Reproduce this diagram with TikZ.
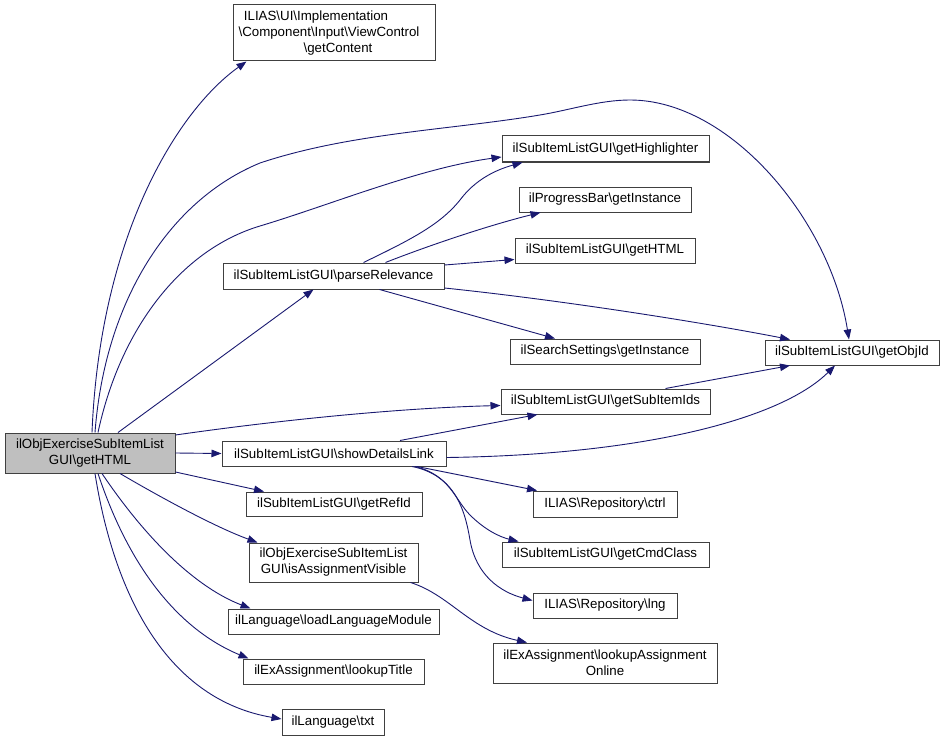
\documentclass[tikz,border=0pt]{standalone}
\usepackage{fontspec}
\setmainfont{Liberation Sans}
\usetikzlibrary{arrows.meta}
\definecolor{edgec}{HTML}{191970}
\definecolor{boxc}{HTML}{404040}
\definecolor{mainfill}{HTML}{BFBFBF}
\tikzset{
  box/.style={draw=boxc, line width=1pt, fill=white, inner sep=0pt, align=center,
    font=\fontsize{13.3}{16}\selectfont},
  mainbox/.style={box, fill=mainfill},
  edge/.style={draw=edgec, line width=0.9pt, -{Triangle[length=10pt,width=7.5pt]}, edgec},
}
\begin{document}
\begin{tikzpicture}[x=1pt,y=-1pt]
\useasboundingbox[fill=white] (0,0) rectangle (945,741);
% nodes
\node[mainbox, minimum width=170pt, minimum height=40pt] (M) at (90,453) {ilObjExerciseSubItemList\\GUI\textbackslash getHTML};
\node[box, minimum width=202pt, minimum height=56pt] (GC) at (334,33) {\hspace*{-36pt}ILIAS\textbackslash UI\textbackslash Implementation\\\hspace*{-10pt}\textbackslash Component\textbackslash Input\textbackslash ViewControl\\\hspace*{8pt}\textbackslash getContent};
\node[box, minimum width=221pt, minimum height=26pt] (PR) at (333.5,276) {ilSubItemListGUI\textbackslash parseRelevance};
\node[box, minimum width=224pt, minimum height=25pt] (SD) at (334,453.5) {ilSubItemListGUI\textbackslash showDetailsLink};
\node[box, minimum width=207pt, minimum height=26pt] (GH) at (605.5,149) {ilSubItemListGUI\textbackslash getHighlighter};
\node[box, minimum width=172pt, minimum height=25pt] (PB) at (605,199.5) {ilProgressBar\textbackslash getInstance};
\node[box, minimum width=180pt, minimum height=25pt] (GHTML) at (605,250.5) {ilSubItemListGUI\textbackslash getHTML};
\node[box, minimum width=190pt, minimum height=25pt] (SS) at (605,351.5) {ilSearchSettings\textbackslash getInstance};
\node[box, minimum width=174pt, minimum height=25pt] (GOI) at (852,352.5) {ilSubItemListGUI\textbackslash getObjId};
\node[box, minimum width=209pt, minimum height=25pt] (GSI) at (605.5,401.5) {ilSubItemListGUI\textbackslash getSubItemIds};
\node[box, minimum width=144pt, minimum height=26pt] (CTRL) at (605,504) {ILIAS\textbackslash Repository\textbackslash ctrl};
\node[box, minimum width=207pt, minimum height=25pt] (GCC) at (605.5,554.5) {ilSubItemListGUI\textbackslash getCmdClass};
\node[box, minimum width=144pt, minimum height=25pt] (LNG) at (605,605.5) {ILIAS\textbackslash Repository\textbackslash lng};
\node[box, minimum width=224pt, minimum height=40pt] (LAO) at (605,663) {ilExAssignment\textbackslash lookupAssignment\\Online};
\node[box, minimum width=176pt, minimum height=24pt] (GRI) at (334,504) {ilSubItemListGUI\textbackslash getRefId};
\node[box, minimum width=169pt, minimum height=39pt] (IAV) at (333.5,562.5) {ilObjExerciseSubItemList\\GUI\textbackslash isAssignmentVisible};
\node[box, minimum width=211pt, minimum height=25pt] (LLM) at (333.5,621.5) {ilLanguage\textbackslash loadLanguageModule};
\node[box, minimum width=181pt, minimum height=25pt] (LT) at (333.5,671.5) {ilExAssignment\textbackslash lookupTitle};
\node[box, minimum width=102pt, minimum height=26pt] (TXT) at (333,722) {ilLanguage\textbackslash txt};
% edges from main
\draw[edge] ([xshift=2pt]M.north) .. controls (100,235) and (178,110) .. ([xshift=14pt]GC.south west);
\draw[edge] ([xshift=5pt]M.north) .. controls (105,300) and (170,200) .. (260,163)
  .. controls (350,133) and (450,130) .. (540,115)
  .. controls (570,110) and (600,100) .. (630,100)
  .. controls (730,100) and (830,220) .. ([xshift=-3pt]GOI.north);
\draw[edge] ([xshift=8pt]M.north) .. controls (120,330) and (180,250) .. (260,226)
  .. controls (330,205) and (420,168) .. ([yshift=-8pt]GH.west);
\draw[edge] ([xshift=28pt]M.north) -- ([xshift=-20pt]PR.south);
\draw[edge] ([yshift=18pt]M.east) .. controls (280,420) and (400,408) .. ([yshift=-4pt]GSI.west);
\draw[edge] (M.east) -- (SD.west);
\draw[edge] ([yshift=-19pt]M.east) -- ([xshift=-70pt]GRI.north);
\draw[edge] ([xshift=30pt]M.south) .. controls (160,497) and (215,527) .. ([xshift=-76pt]IAV.north);
\draw[edge] ([xshift=12pt]M.south) .. controls (140,530) and (190,585) .. ([xshift=-83pt]LLM.north);
\draw[edge] ([xshift=8pt]M.south) .. controls (130,570) and (180,630) .. ([xshift=6pt]LT.north west);
\draw[edge] ([xshift=5pt]M.south) .. controls (115,600) and (170,700) .. ([yshift=3pt]TXT.west);
% edges from parseRelevance
\draw[edge] ([xshift=30pt]PR.north) .. controls (410,240) and (440,225) .. (460,200)
  .. controls (475,180) and (495,170) .. ([xshift=21pt]GH.south west);
\draw[edge] ([xshift=52pt]PR.north) .. controls (430,245) and (490,225) .. ([xshift=22pt]PB.south west);
\draw[edge] ([yshift=11pt]PR.east) -- ([yshift=-9pt]GHTML.west);
\draw[edge] ([yshift=-12pt]PR.east) .. controls (560,300) and (700,322) .. ([xshift=-62pt]GOI.north);
\draw[edge] ([xshift=46pt]PR.south) -- ([xshift=-50pt]SS.north);
% edges from showDetailsLink
\draw[edge] ([xshift=66pt]SD.north) -- ([xshift=-68pt]GSI.south);
\draw[edge] ([yshift=-4pt]SD.east) .. controls (640,455) and (780,420) .. ([xshift=-17pt]GOI.south);
\draw[edge] ([xshift=60pt]GSI.north) -- ([xshift=-62pt]GOI.south);
\draw[edge] ([xshift=83pt]SD.south) -- ([xshift=-68pt]CTRL.north);
\draw[edge] ([xshift=81pt]SD.south) .. controls (450,475) and (455,500) .. (470,515)
  .. controls (485,530) and (500,537) .. ([xshift=-87pt]GCC.north);
\draw[edge] ([xshift=78pt]SD.south) .. controls (455,475) and (465,510) .. (470,540)
  .. controls (476,575) and (500,592) .. ([yshift=5pt]LNG.west);
\draw[edge] ([xshift=-8pt]IAV.south east) .. controls (450,595) and (470,630) .. ([xshift=-78pt]LAO.north);
\end{tikzpicture}
\end{document}
